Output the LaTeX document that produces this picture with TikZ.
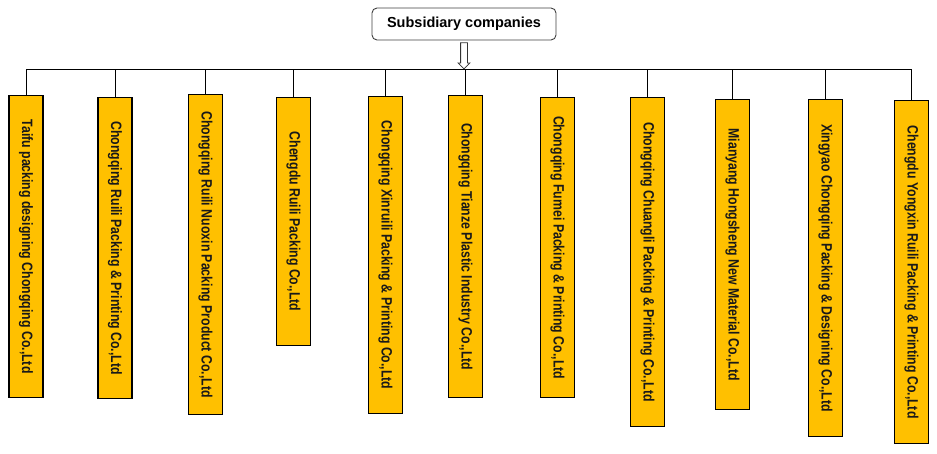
\documentclass[tikz,border=0pt]{standalone}
\usepackage{fontspec}
\setmainfont{Liberation Sans}
\newfontfamily\narrowfont{Liberation Sans}[FakeStretch=0.82]
\usepackage{tikz}
\usepackage{xcolor}
\usetikzlibrary{shapes.arrows}
\definecolor{boxgold}{RGB}{255,192,0}

\begin{document}
\begin{tikzpicture}[
  x=1pt, y=-1pt,
  capbox/.style={draw=black!75, line width=0.9pt, rounded corners=5pt, fill=white,
    minimum width=184pt, minimum height=32pt, inner sep=0pt,
    font=\fontsize{14.5}{17}\selectfont\bfseries},
  subbox/.style={draw=black, line width=1.2pt, fill=boxgold, rotate=-90, anchor=west,
    minimum height=34pt, minimum width=#1, inner sep=0pt,
    font=\narrowfont\fontsize{15}{18}\selectfont\bfseries, text=black!90},
  link/.style={line width=1pt, black},
  hollow/.style={single arrow, draw=black!80, line width=0.8pt, fill=white, rotate=-90,
    inner xsep=0pt, inner ysep=3pt, single arrow head extend=2.5pt, minimum height=26pt}
]
\useasboundingbox (0,0) rectangle (937,454);

% Caption and arrow to the bus
\node[capbox] (cap) at (464,24) {Subsidiary companies};
\node[hollow, anchor=tail] (down) at ([yshift=-2pt]cap.south) {};
\coordinate (bus) at (464,70);

% Subsidiaries
\node[subbox=302pt] (taifu) at (26,95) {Taifu packing designing Chongqing Co.,Ltd};
\node[subbox=301pt] (ruili) at (115,97) {Chongqing Ruili Packing \& Printing Co.,Ltd};
\node[subbox=320pt] (nuoxin) at (205.5,94) {Chongqing Ruili Nuoxin Packing Product Co.,Ltd};
\node[subbox=248pt] (chengdu) at (293.5,97) {Chengdu Ruili Packing Co.,Ltd};
\node[subbox=317pt] (xinruili) at (385.5,96) {Chongqing Xinruili Packing \& Printing Co.,Ltd};
\node[subbox=302pt] (tianze) at (465.5,95) {Chongqing Tianze Plastic Industry Co.,Ltd};
\node[subbox=300pt] (fumei) at (557.5,97) {Chongqing Fumei Packing \& Printing Co.,Ltd};
\node[subbox=329pt] (chuangli) at (647.5,97) {Chongqing Chuangli Packing \& Printing Co.,Ltd};
\node[subbox=310pt] (mianyang) at (732.5,99) {Mianyang Hongsheng New Material Co.,Ltd};
\node[subbox=337pt] (xingyao) at (825.5,99) {Xingyao Chongqing Packing \& Designing Co.,Ltd};
\node[subbox=343pt] (yongxin) at (911.5,100) {Chengdu Yongxin Ruili Packing \& Printing Co.,Ltd};

% Bus line
\draw[link] (taifu.west |- bus) -- (yongxin.west |- bus);

% Drops to each box
\draw[link] (taifu.west |- bus) -- (taifu.west);
\draw[link] (ruili.west |- bus) -- (ruili.west);
\draw[link] (nuoxin.west |- bus) -- (nuoxin.west);
\draw[link] (chengdu.west |- bus) -- (chengdu.west);
\draw[link] (xinruili.west |- bus) -- (xinruili.west);
\draw[link] (tianze.west |- bus) -- (tianze.west);
\draw[link] (fumei.west |- bus) -- (fumei.west);
\draw[link] (chuangli.west |- bus) -- (chuangli.west);
\draw[link] (mianyang.west |- bus) -- (mianyang.west);
\draw[link] (xingyao.west |- bus) -- (xingyao.west);
\draw[link] (yongxin.west |- bus) -- (yongxin.west);

\end{tikzpicture}
\end{document}
